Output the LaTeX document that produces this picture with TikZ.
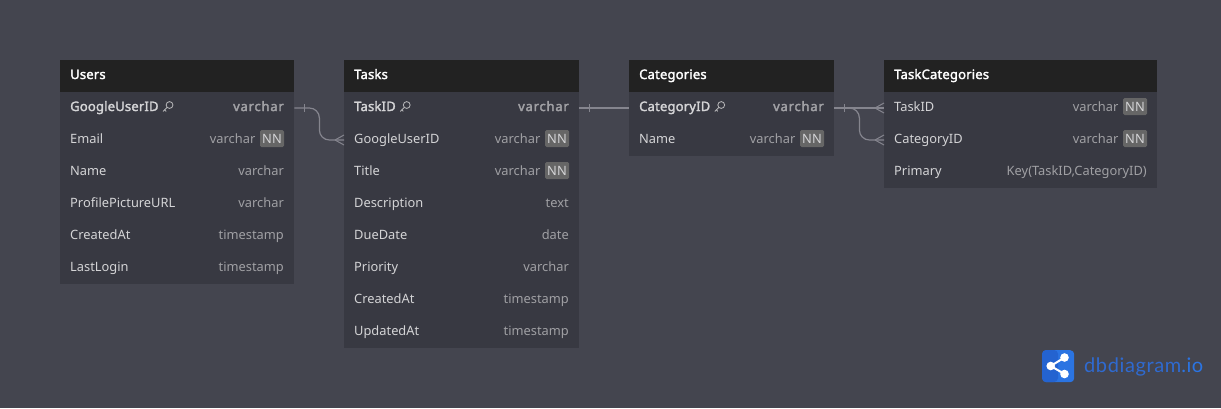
\documentclass[tikz,border=0pt]{standalone}
\usepackage{fontspec}
\setmainfont[BoldFont={Noto Sans},BoldFeatures={FakeBold=2.2,LetterSpace=1.5}]{Noto Sans}
\newfontfamily\logofont[LetterSpace=3]{Lato}
\newfontfamily\pktypefont[FakeBold=2.6,LetterSpace=6]{Noto Sans}
\definecolor{bgc}{HTML}{44454F}
\definecolor{headc}{HTML}{222222}
\definecolor{bodyc}{HTML}{383942}
\definecolor{namec}{HTML}{D4D4D6}
\definecolor{typec}{HTML}{A0A0A4}
\definecolor{badgec}{HTML}{666666}
\definecolor{connc}{HTML}{85858E}
\definecolor{logod}{HTML}{2463D0}
\definecolor{logol}{HTML}{2B74E2}
\definecolor{logot}{HTML}{2F6AD0}
\tikzset{
  x=1pt,y=-1pt,
  headbox/.style={fill=headc,draw=none,inner sep=0pt,minimum height=32pt,anchor=north west},
  tablebody/.style={fill=bodyc,draw=none,inner sep=0pt,anchor=north west},
  rowbox/.style={draw=none,inner sep=0pt,minimum height=32pt,anchor=west},
  title/.style={font=\fontsize{13}{15}\selectfont\bfseries,text=white,inner sep=0pt,anchor=base west},
  rowname/.style={font=\fontsize{12.85}{15}\selectfont,text=namec,inner sep=0pt,anchor=base west},
  rowtype/.style={font=\fontsize{12.85}{15}\selectfont,text=typec,inner sep=0pt,anchor=base east},
  pkname/.style={rowname,font=\fontsize{13}{15}\selectfont\bfseries},
  pktype/.style={rowtype,font=\pktypefont\fontsize{13}{15}\selectfont},
  badge/.style={fill=badgec,text=namec,rounded corners=1.5pt,font=\fontsize{12.85}{15}\selectfont,inner sep=0pt,minimum width=24pt,minimum height=17pt,anchor=center},
  conn/.style={draw=connc,line width=1.2pt},
  thin conn/.style={draw=connc,line width=1pt},
  keyicon/.style={draw=namec!85!black,line width=.85pt,line cap=round},
}
% \tbl{name}{x}{y}{width}{rows}{title}
\newcommand{\tbl}[6]{%
  \node[tablebody,minimum width=#4pt,minimum height=#5*32pt+32pt] (#1body) at (#2,#3) {};
  \node[headbox,minimum width=#4pt] (#1head) at (#2,#3) {};
  \node[title] (#1title) at (#2+10,#3+19) {#6};
}
% \rw{table}{idx}{x}{width}{y of row centre}{name}{type}
\newcommand{\rw}[7]{%
  \node[rowbox,minimum width=#4pt] (#1r#2) at (#3,#5) {};
  \node[rowname] (#1n#2) at (#3+10,#5+3) {#6};
  \node[rowtype] (#1t#2) at (#3+#4-10,#5+3) {#7};
}
\newcommand{\rwnn}[7]{%
  \node[rowbox,minimum width=#4pt] (#1r#2) at (#3,#5) {};
  \node[rowname] (#1n#2) at (#3+10,#5+3) {#6};
  \node[rowtype] (#1t#2) at (#3+#4-38.5,#5+3) {#7};
  \node[badge] (#1b#2) at (#3+#4-22,#5-1.5) {NN};
}
\newcommand{\rwpk}[7]{%
  \node[rowbox,minimum width=#4pt] (#1r#2) at (#3,#5) {};
  \node[pkname] (#1n#2) at (#3+10,#5+3) {#6};
  \node[pktype] (#1t#2) at (#3+#4-10,#5+3) {#7};
  \draw[keyicon] (#1n#2.base east) ++(4.5,.3) -- ++(4,-4);
  \draw[keyicon] (#1n#2.base east) ++(5.8,-1.2) -- ++(1.4,1.4);
  \draw[keyicon] (#1n#2.base east) ++(10.8,-6) circle (3.4pt);
}
\newcommand{\crow}[1]{%
  \draw[thin conn] (#1.west) ++(-9,0) -- ++(9,-5);
  \draw[thin conn] (#1.west) ++(-9,0) -- ++(9,5);
}
\newcommand{\tick}[1]{%
  \draw[thin conn] (#1.east) ++(10,-4) -- ++(0,8);
}
\begin{document}
\begin{tikzpicture}
\useasboundingbox (0,0) rectangle (1221,408);
\fill[bgc] (0,0) rectangle (1221,408);

\tbl{u}{60}{60}{234}{6}{Users}
\rwpk{u}{1}{60}{234}{108}{GoogleUserID}{varchar}
\rwnn{u}{2}{60}{234}{140}{Email}{varchar}
\rw{u}{3}{60}{234}{172}{Name}{varchar}
\rw{u}{4}{60}{234}{204}{ProfilePictureURL}{varchar}
\rw{u}{5}{60}{234}{236}{CreatedAt}{timestamp}
\rw{u}{6}{60}{234}{268}{LastLogin}{timestamp}

\tbl{t}{344}{60}{235}{8}{Tasks}
\rwpk{t}{1}{344}{235}{108}{TaskID}{varchar}
\rwnn{t}{2}{344}{235}{140}{GoogleUserID}{varchar}
\rwnn{t}{3}{344}{235}{172}{Title}{varchar}
\rw{t}{4}{344}{235}{204}{Description}{text}
\rw{t}{5}{344}{235}{236}{DueDate}{date}
\rw{t}{6}{344}{235}{268}{Priority}{varchar}
\rw{t}{7}{344}{235}{300}{CreatedAt}{timestamp}
\rw{t}{8}{344}{235}{332}{UpdatedAt}{timestamp}

\tbl{c}{629}{60}{205}{2}{Categories}
\rwpk{c}{1}{629}{205}{108}{CategoryID}{varchar}
\rwnn{c}{2}{629}{205}{140}{Name}{varchar}

\tbl{k}{884}{60}{273}{3}{TaskCategories}
\rwnn{k}{1}{884}{273}{108}{TaskID}{varchar}
\rwnn{k}{2}{884}{273}{140}{CategoryID}{varchar}
\rw{k}{3}{884}{273}{172}{Primary}{Key(TaskID,CategoryID)}

\draw[conn,rounded corners=10pt] (ur1.east) -- ++(25,0) |- (tr2.west);
\tick{ur1}\crow{tr2}
\draw[conn] (tr1.east) -- (cr1.west);
\tick{tr1}
\draw[conn] (cr1.east) -- (kr1.west);
\draw[conn,rounded corners=10pt] (cr1.east) -- ++(25,0) |- (kr2.west);
\tick{cr1}\crow{kr1}\crow{kr2}

% logo
\node[fill=logol,rounded corners=4pt,inner sep=0pt,minimum size=32pt,anchor=north west] (logo) at (1042,350) {};
\fill[logod,rounded corners=4pt] (1042,350) -- (1058,350) -- (1058,382) -- (1042,382) -- cycle;
\coordinate (lA) at (1050.7,366);
\coordinate (lB) at (1064.5,357.5);
\coordinate (lC) at (1064.5,374);
\draw[white,line width=2pt] (lB) -- (lA) -- (lC);
\fill[white] (lA) circle (4.3pt) (lB) circle (4.3pt) (lC) circle (4.3pt);
\node[font=\logofont\fontsize{20}{24}\selectfont,text=logot,inner sep=0pt,anchor=base west] (logotext) at (1084,372.5) {dbdiagram\textcolor{logol}{.io}};
\end{tikzpicture}
\end{document}
